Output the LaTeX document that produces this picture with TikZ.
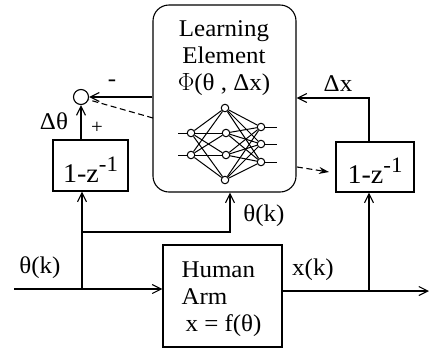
\documentclass[tikz,border=0pt]{standalone}
\usepackage{fontspec}
\setmainfont[FakeStretch=1.04]{Liberation Serif}
\usetikzlibrary{arrows.meta}
\begin{document}
\begin{tikzpicture}[x=1pt,y=-1pt, line width=1.1pt,
  >={Straight Barb[length=9pt,width=9pt]},
  every node/.style={inner sep=0pt, font=\fontsize{24}{27}\selectfont},
  box/.style={draw, line width=1.1pt},
  small/.style={font=\fontsize{20}{20}\selectfont},
  neuron/.style={circle, draw, fill=white, minimum size=7.5pt, line width=1pt},
  nedge/.style={line width=1pt},
  dashline/.style={dash pattern=on 6pt off 3.5pt},
  delaytext/.style={font=\fontsize{27}{27}\selectfont}]
\useasboundingbox (0,0) rectangle (429,349);

% Learning element
\node[box, rounded corners=16pt, minimum width=143pt, minimum height=187pt] (le) at (224.5,98.5) {};
\node[anchor=base] (t1) at (224,36) {Learning};
\node[anchor=base] (t2) at (224,63) {Element};
\node[anchor=base] (t3) at (224,90) {$\Phi$(θ , Δx)};

% network
\node[neuron] (i1) at (191,133) {};
\node[neuron] (i2) at (191,155) {};
\node[neuron] (h1) at (225,108) {};
\node[neuron] (h2) at (226,133) {};
\node[neuron] (h3) at (226,155) {};
\node[neuron] (h4) at (225,180) {};
\node[neuron] (o1) at (261,127) {};
\node[neuron] (o2) at (261,144) {};
\node[neuron] (o3) at (261,162) {};
\coordinate (s1) at (178,133);
\coordinate (s2) at (178,155);
\coordinate (e1) at (277,127);
\coordinate (e2) at (277,144);
\coordinate (e3) at (277,162);
\draw[nedge] (s1) -- (i1);
\draw[nedge] (s2) -- (i2);
\draw[nedge] (o1) -- (e1);
\draw[nedge] (o2) -- (e2);
\draw[nedge] (o3) -- (e3);
\foreach \a in {i1,i2}{\foreach \b in {h1,h2,h3,h4}{\draw[nedge] (\a) -- (\b);}}
\foreach \a in {h1,h2,h3,h4}{\foreach \b in {o1,o2,o3}{\draw[nedge] (\a) -- (\b);}}

% human arm
\node[box, minimum width=119pt, minimum height=102pt] (arm) at (222.5,296) {};
\node[anchor=base west] (a1) at (181,277) {Human};
\node[anchor=base west] (a2) at (181,304) {Arm};
\node[anchor=base west] (a3) at (185,331) {x = f(θ)};

% delay boxes
\node[box, minimum width=75pt, minimum height=51pt] (ld) at (90.5,165.5) {};
\node[delaytext] (ldt) at (90.5,170) {1-z\raisebox{11pt}{\fontsize{22}{22}\selectfont -1}};
\node[box, minimum width=78pt, minimum height=50pt] (rd) at (375,167) {};
\node[delaytext] (rdt) at (375,171) {1-z\raisebox{11pt}{\fontsize{22}{22}\selectfont -1}};

% summing junction
\node[circle, draw, minimum size=15pt] (sum) at (81,97) {};

% connectors
\draw[->] (sum -| le.west) -- (sum.east);
\coordinate (d1) at (153,118);
\draw[dashline] (d1) -- (sum.-20);
\draw[->] (ld.north -| sum) -- (sum.south);

\coordinate (in) at (14,289);
\draw[->] (in) -- (in -| arm.west);
\coordinate (b1) at (82,289);
\draw[->] (b1) -- (b1 |- ld.south);
\coordinate (b2) at (82,232);
\coordinate (b3) at (230,232);
\draw[->] (b2) -- (b3) -- (b3 |- le.south);

\coordinate (out) at (429,291);
\draw[->] (arm.east |- out) -- (out);
\coordinate (b4) at (369,291);
\draw[->] (b4) -- (b4 |- rd.south);
\coordinate (b5) at (369,98);
\draw[->] (b5 |- rd.north) -- (b5) -- (b5 -| le.east);

\coordinate (d2) at (297,167);
\coordinate (d3) at (329,172);
\draw[dashline, -{Stealth[length=10pt,width=7pt]}] (d2) -- (d3);

% labels
\node (lminus) at (112,83) {-};
\node[small] (lplus) at (97,128) {+};
\node (ldth) at (54,121) {Δθ};
\node (ldx) at (338,84) {Δx};
\node (lth1) at (40,268) {θ(k)};
\node (lth2) at (264,216) {θ(k)};
\node (lxk) at (313,270) {x(k)};
\end{tikzpicture}
\end{document}
